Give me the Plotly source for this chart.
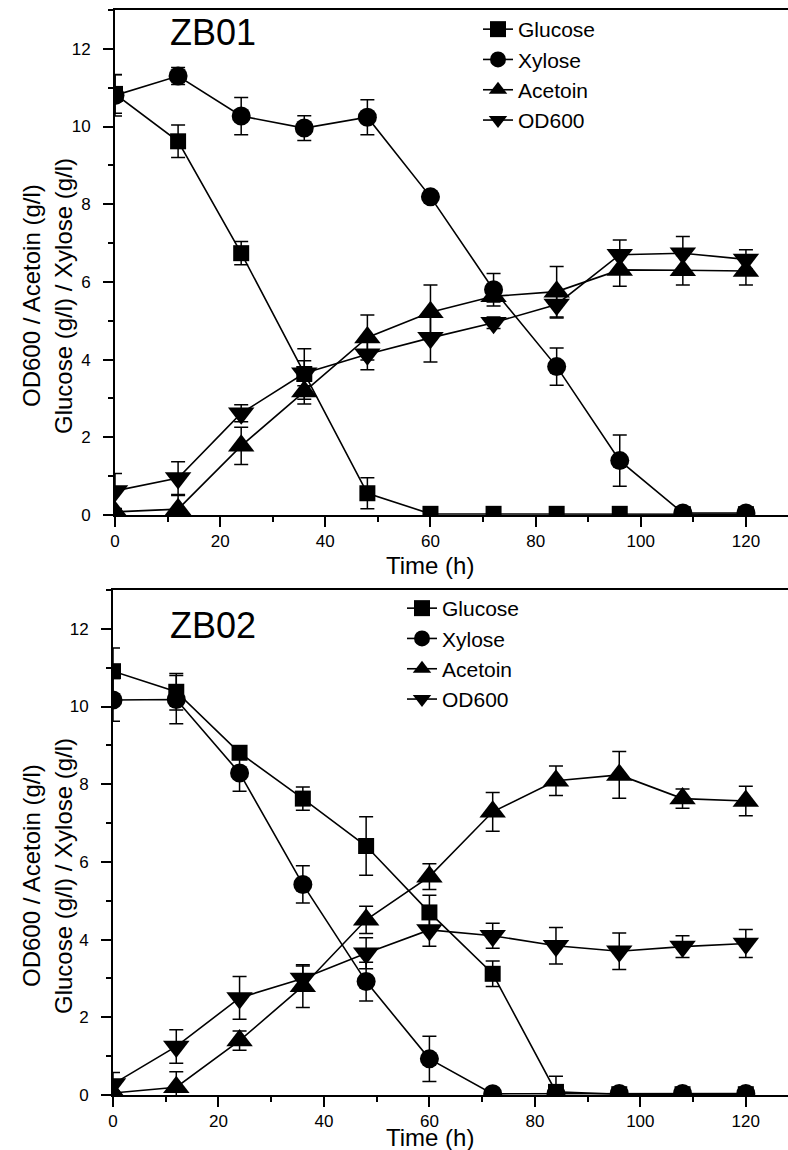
import plotly.graph_objects as go

# ---------------- data ----------------
time_h = [0, 12, 24, 36, 48, 60, 72, 84, 96, 108, 120]
series_names = ["Glucose", "Xylose", "Acetoin", "OD600"]
x_ticks = [0, 20, 40, 60, 80, 100, 120]
y_ticks = [0, 2, 4, 6, 8, 10, 12]
panel_labels = ["ZB01", "ZB02"]

zb01_glucose = [10.84, 9.62, 6.74, 3.63, 0.56, 0.03, 0.03, 0.03, 0.03, 0.02, 0.02]
zb01_glucose_err = [0.50, 0.42, 0.30, 0.65, 0.40, 0.0, 0.0, 0.0, 0.0, 0.0, 0.0]
zb01_xylose = [10.80, 11.30, 10.27, 9.96, 10.24, 8.19, 5.80, 3.82, 1.40, 0.05, 0.05]
zb01_xylose_err = [0.53, 0.22, 0.48, 0.32, 0.45, 0.10, 0.42, 0.48, 0.66, 0.05, 0.05]
zb01_acetoin = [0.08, 0.15, 1.78, 3.18, 4.57, 5.22, 5.63, 5.75, 6.31, 6.30, 6.28]
zb01_acetoin_err = [0.05, 0.35, 0.48, 0.32, 0.58, 0.70, 0.15, 0.65, 0.42, 0.38, 0.36]
zb01_od600 = [0.62, 0.95, 2.62, 3.65, 4.14, 4.56, 4.95, 5.42, 6.70, 6.74, 6.58]
zb01_od600_err = [0.45, 0.42, 0.22, 0.32, 0.40, 0.62, 0.15, 0.35, 0.38, 0.43, 0.25]

zb02_glucose = [10.91, 10.38, 8.81, 7.63, 6.41, 4.70, 3.12, 0.08, 0.02, 0.02, 0.02]
zb02_glucose_err = [0.60, 0.47, 0.15, 0.30, 0.75, 0.44, 0.33, 0.40, 0.0, 0.0, 0.0]
zb02_xylose = [10.17, 10.18, 8.29, 5.42, 2.92, 0.93, 0.03, 0.03, 0.04, 0.04, 0.04]
zb02_xylose_err = [0.55, 0.62, 0.47, 0.48, 0.50, 0.58, 0.0, 0.0, 0.0, 0.0, 0.0]
zb02_acetoin = [0.05, 0.20, 1.40, 2.80, 4.51, 5.62, 7.29, 8.09, 8.24, 7.63, 7.57]
zb02_acetoin_err = [0.05, 0.40, 0.25, 0.55, 0.35, 0.33, 0.50, 0.38, 0.60, 0.25, 0.38]
zb02_od600 = [0.28, 1.25, 2.50, 3.00, 3.65, 4.25, 4.10, 3.84, 3.70, 3.82, 3.90]
zb02_od600_err = [0.30, 0.43, 0.55, 0.32, 0.40, 0.42, 0.32, 0.47, 0.47, 0.28, 0.36]

# ---------------- styling ----------------
W, H = 788, 1150
FONT = "Liberation Sans, Arial, Helvetica, sans-serif"
symbols = {"Glucose": "square", "Xylose": "circle", "Acetoin": "triangle-up", "OD600": "triangle-down"}
sizes = {"Glucose": 16, "Xylose": 19, "Acetoin": 23, "OD600": 23}

panels = [
    dict(label=panel_labels[0], xa="x", ya="y", legend="legend",
         data={"Glucose": (zb01_glucose, zb01_glucose_err), "Xylose": (zb01_xylose, zb01_xylose_err),
               "Acetoin": (zb01_acetoin, zb01_acetoin_err), "OD600": (zb01_od600, zb01_od600_err)}),
    dict(label=panel_labels[1], xa="x2", ya="y2", legend="legend2",
         data={"Glucose": (zb02_glucose, zb02_glucose_err), "Xylose": (zb02_xylose, zb02_xylose_err),
               "Acetoin": (zb02_acetoin, zb02_acetoin_err), "OD600": (zb02_od600, zb02_od600_err)}),
]

fig = go.Figure()
draw_order = ["OD600", "Acetoin", "Xylose", "Glucose"]
for p in panels:
    for name in draw_order:
        vals, errs = p["data"][name]
        fig.add_trace(go.Scatter(
            x=time_h, y=vals, name=name, mode="lines+markers",
            xaxis=p["xa"], yaxis=p["ya"], legend=p["legend"],
            line=dict(color="black", width=1.6),
            marker=dict(symbol=symbols[name], size=sizes[name], color="black", line=dict(width=0)),
            error_y=dict(type="data", array=errs, visible=True, color="black", thickness=1.5, width=7),
        ))

def px_x(px):
    return px / W

def px_y(py):
    return 1 - py / H

tickfont = dict(family=FONT, size=17, color="black")

def xaxis(left_px, anchor):
    return dict(domain=[px_x(left_px), 1.0], anchor=anchor, range=[0, 128],
                tickmode="array", tickvals=x_ticks, ticktext=[str(v) for v in x_ticks],
                ticks="outside", ticklen=10, tickwidth=2, tickcolor="black",
                showline=True, linewidth=2, linecolor="black", mirror=True,
                showgrid=False, zeroline=False, tickfont=tickfont, automargin=False,
                ticklabelstandoff=0,
                minor=dict(ticks="outside", ticklen=5, tickwidth=2, tickcolor="black",
                           dtick=10, tick0=0, showgrid=False))

def yaxis(top_px, bot_px, anchor):
    return dict(domain=[px_y(bot_px), px_y(top_px)], anchor=anchor, range=[0, 13],
                tickmode="array", tickvals=y_ticks, ticktext=[str(v) for v in y_ticks],
                ticks="outside", ticklen=10, tickwidth=2, tickcolor="black",
                showline=True, linewidth=2, linecolor="black", mirror=False,
                showgrid=False, zeroline=False, tickfont=tickfont, automargin=False,
                ticklabelstandoff=9,
                minor=dict(ticks="outside", ticklen=5, tickwidth=2, tickcolor="black",
                           dtick=1, tick0=0, showgrid=False))

legend_font = dict(family=FONT, size=21, color="black")

fig.update_layout(
    width=W, height=H, margin=dict(l=0, r=0, t=0, b=0),
    template="none", paper_bgcolor="white", plot_bgcolor="white",
    font=dict(family=FONT, color="black"),
    xaxis=xaxis(115, "y"),
    yaxis=yaxis(10, 515, "x"),
    xaxis2=xaxis(113, "y2"),
    yaxis2=yaxis(590, 1095, "x2"),
    legend=dict(x=px_x(478), y=px_y(9), xanchor="left", yanchor="top",
                traceorder="reversed", font=legend_font, bgcolor="rgba(0,0,0,0)",
                borderwidth=0, itemsizing="trace"),
    legend2=dict(x=px_x(402), y=px_y(588), xanchor="left", yanchor="top",
                 traceorder="reversed", font=legend_font, bgcolor="rgba(0,0,0,0)",
                 borderwidth=0, itemsizing="trace"),
    showlegend=True,
)

annotations = []
for label, y_lab, y_time, y_title in [(panel_labels[0], 33, 565, 296), (panel_labels[1], 625, 1137, 876)]:
    annotations.append(dict(text=label, x=px_x(168), y=px_y(y_lab), xref="paper", yref="paper",
                            xanchor="left", yanchor="middle", showarrow=False,
                            font=dict(family=FONT, size=36, color="black")))
    annotations.append(dict(text="Time (h)", x=px_x(430), y=px_y(y_time), xref="paper", yref="paper",
                            xanchor="center", yanchor="middle", showarrow=False,
                            font=dict(family=FONT, size=24, color="black")))
    annotations.append(dict(text="OD600 / Acetoin (g/l)", x=px_x(31), y=px_y(y_title), xref="paper",
                            yref="paper", xanchor="center", yanchor="middle", textangle=-90,
                            showarrow=False, font=dict(family=FONT, size=24, color="black")))
    annotations.append(dict(text="Glucose (g/l) / Xylose (g/l)", x=px_x(63), y=px_y(y_title), xref="paper",
                            yref="paper", xanchor="center", yanchor="middle", textangle=-90,
                            showarrow=False, font=dict(family=FONT, size=24, color="black")))
fig.update_layout(annotations=annotations)

fig.write_html("out.html", config={"displayModeBar": False},
               post_script="document.body.style.margin='0px';")
